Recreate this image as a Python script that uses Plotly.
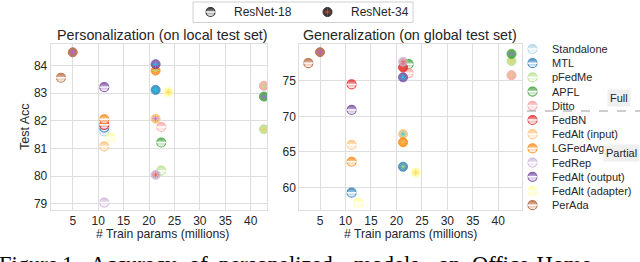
import plotly.graph_objects as go

# ---------------- data ----------------
methods = ["Standalone", "MTL", "pFedMe", "APFL", "Ditto", "FedBN",
           "FedAlt (input)", "LGFedAvg", "FedRep", "FedAlt (output)",
           "FedAlt (adapter)", "PerAda"]
colors = ["#a6cee3", "#1f78b4", "#b2df8a", "#33a02c", "#fb9a99", "#e31a1c",
          "#fdbf6f", "#ff7f00", "#cab2d6", "#6a3d9a", "#ffff99", "#b15928"]

# trainable params (millions)
params_r18 = [11.2, 11.2, 22.4, 22.4, 22.4, 11.2, 11.2, 11.2, 11.2, 11.2, 12.5, 2.7]
params_r34 = [21.3, 21.3, 42.6, 42.6, 42.6, 21.3, 21.3, 21.3, 21.3, 21.3, 23.8, 5.0]

# personalization (local test set) accuracy
local_r18 = [81.62, 81.76, 80.20, 81.22, 81.78, 81.86, 81.08, 82.06, 79.05, 83.22, 81.40, 83.56]
local_r34 = [None, 83.12, 81.70, 82.88, 83.27, None, 82.08, 83.82, 80.05, 84.05, 83.04, 84.48]

# generalization (global test set) accuracy
global_r18 = [None, 59.24, None, 77.35, 76.10, 74.50, 65.97, 63.60, None, 70.90, 57.80, 77.50]
global_r34 = [None, 62.90, 77.80, 78.80, 75.80, 76.90, 67.50, 66.35, 77.70, 75.50, 62.10, 79.05]

x_ticks = [5, 10, 15, 20, 25, 30, 35, 40]
local_ticks = [79, 80, 81, 82, 83, 84]
global_ticks = [60, 65, 70, 75]

titles = ["Personalization (on local test set)", "Generalization (on global test set)"]
x_title = "# Train params (millions)"
y_title = "Test Acc"
model_names = ["ResNet-18", "ResNet-34"]
group_labels = ["Full", "Partial"]
caption_words = ["Figure", "1.", "Accuracy", "of", "personalized", "models", "on", "Office-Home"]

# ---------------- styling ----------------
W, H = 640, 262
SANS = "Arial, Liberation Sans, sans-serif"
SERIF = "Times New Roman, Liberation Serif, serif"
TXT = "#262626"
GRID = "#dedede"
MS = 9
OP = 0.8

fig = go.Figure()


def r18_marker(xa, ya, x, y, c, name):
    fig.add_trace(go.Scatter(
        x=[x], y=[y], xaxis=xa, yaxis=ya, mode="markers", showlegend=False,
        name=name, hoverinfo="skip", opacity=OP,
        marker=dict(symbol="circle", size=MS, color=c,
                    gradient=dict(type="vertical", color="white"),
                    line=dict(color=c, width=1.2))))
    fig.add_trace(go.Scatter(
        x=[x], y=[y], xaxis=xa, yaxis=ya, mode="markers", showlegend=False,
        hoverinfo="skip",
        marker=dict(symbol="line-ew", size=MS - 2,
                    line=dict(color="white", width=1.4))))


def r34_marker(xa, ya, x, y, c, name):
    fig.add_trace(go.Scatter(
        x=[x], y=[y], xaxis=xa, yaxis=ya, mode="markers", showlegend=False,
        name=name, hoverinfo="skip", opacity=OP,
        marker=dict(symbol="circle", size=MS, color=c,
                    line=dict(color=c, width=1))))
    fig.add_trace(go.Scatter(
        x=[x], y=[y], xaxis=xa, yaxis=ya, mode="markers", showlegend=False,
        hoverinfo="skip",
        marker=dict(symbol="asterisk-open", size=MS - 3,
                    line=dict(color="rgba(255,255,255,0.45)", width=0.6))))


panels = [("x", "y", local_r18, local_r34), ("x2", "y2", global_r18, global_r34)]
for xa, ya, a18, a34 in panels:
    for i, m in enumerate(methods):
        if a18[i] is not None:
            r18_marker(xa, ya, params_r18[i], a18[i], colors[i], m)
        if a34[i] is not None:
            r34_marker(xa, ya, params_r34[i], a34[i], colors[i], m)

# ---------- legends drawn on an overlay axis in pixel units ----------
leg_x = 532.5
leg_y0 = 49.0
leg_dy = 14.2
for i, m in enumerate(methods):
    r18_marker("x3", "y3", leg_x, leg_y0 + i * leg_dy, colors[i], m)
    fig.add_annotation(x=550 / W, y=1 - (leg_y0 + i * leg_dy) / H, xref="paper", yref="paper",
                       text=m, showarrow=False, xanchor="left", yanchor="middle",
                       font=dict(family=SANS, size=11, color=TXT))

# top legend
top_marker_x = [210.5, 327.5]
top_text_x = [232, 348.5]
r18_marker("x3", "y3", top_marker_x[0], 12, "#000000", model_names[0])
r34_marker("x3", "y3", top_marker_x[1], 12, "#000000", model_names[1])
for k in range(2):
    fig.add_annotation(x=top_text_x[k] / W, y=1 - 12 / H, xref="paper", yref="paper",
                       text=model_names[k], showarrow=False, xanchor="left", yanchor="middle",
                       font=dict(family=SANS, size=12, color=TXT))

shapes = [
    dict(type="rect", xref="paper", yref="paper", x0=193 / W, x1=413 / W,
         y0=1 - 22.5 / H, y1=1 - 2 / H, line=dict(color="#d0d0d0", width=1),
         fillcolor="rgba(255,255,255,0.9)", layer="below"),
    dict(type="line", xref="paper", yref="paper", x0=527 / W, x1=640 / W,
         y0=1 - 111 / H, y1=1 - 111 / H, line=dict(color="#9a9a9a", width=1, dash="dash")),
]

# Full / Partial tags
for lbl, cx, cy in [(group_labels[0], 619, 98.5), (group_labels[1], 621, 153)]:
    fig.add_annotation(x=cx / W, y=1 - cy / H, xref="paper", yref="paper", text=lbl,
                       showarrow=False, xanchor="center", yanchor="middle",
                       bgcolor="#efefef", borderpad=2,
                       font=dict(family=SANS, size=11, color=TXT))

# titles
for t, cx in zip(titles, [162.5, 410]):
    fig.add_annotation(x=cx / W, y=1 - 35 / H, xref="paper", yref="paper", text=t,
                       showarrow=False, xanchor="center", yanchor="middle",
                       font=dict(family=SANS, size=14.3, color=TXT))
# x-axis titles
for cx in [162, 410]:
    fig.add_annotation(x=cx / W, y=1 - 233.5 / H, xref="paper", yref="paper", text=x_title,
                       showarrow=False, xanchor="center", yanchor="middle",
                       font=dict(family=SANS, size=12.2, color=TXT))
# y title
fig.add_annotation(x=25 / W, y=1 - 127 / H, xref="paper", yref="paper", text=y_title,
                   showarrow=False, textangle=-90, xanchor="center", yanchor="middle",
                   font=dict(family=SANS, size=12.5, color=TXT))

# caption words
caption_x = [-3, 60, 88, 187, 217, 352, 436, 470]
for wd, cx in zip(caption_words, caption_x):
    fig.add_annotation(x=cx / W, y=1 - 279 / H, xref="paper", yref="paper", text=wd,
                       showarrow=False, xanchor="left", yanchor="bottom",
                       font=dict(family=SERIF, size=22.5, color="#000000"))

axis_common = dict(showgrid=True, gridcolor=GRID, gridwidth=1, zeroline=False,
                   showline=True, mirror=True, linecolor=GRID, linewidth=1, ticks="",
                   tickfont=dict(family=SANS, size=12, color=TXT))

fig.update_layout(
    width=W, height=H, margin=dict(l=0, r=0, t=0, b=0),
    paper_bgcolor="white", plot_bgcolor="rgba(0,0,0,0)",
    showlegend=False, shapes=shapes,
    xaxis=dict(domain=[50.7 / W, 267 / W], range=[0.67, 43.2], tickvals=x_ticks, **axis_common),
    yaxis=dict(domain=[1 - 210 / H, 1 - 44 / H], range=[78.78, 84.78], tickvals=local_ticks, **axis_common),
    xaxis2=dict(domain=[299.3 / W, 521.7 / W], range=[0.93, 44.6], tickvals=x_ticks, anchor="y2", **axis_common),
    yaxis2=dict(domain=[1 - 210 / H, 1 - 44 / H], range=[56.8, 80.2], tickvals=global_ticks, anchor="x2", **axis_common),
    xaxis3=dict(domain=[0, 1], range=[0, W], visible=False, anchor="y3"),
    yaxis3=dict(domain=[0, 1], range=[H, 0], visible=False, anchor="x3"),
)

fig.write_html("out.html", config={"displayModeBar": False},
               post_script="document.body.style.margin='0px';")
